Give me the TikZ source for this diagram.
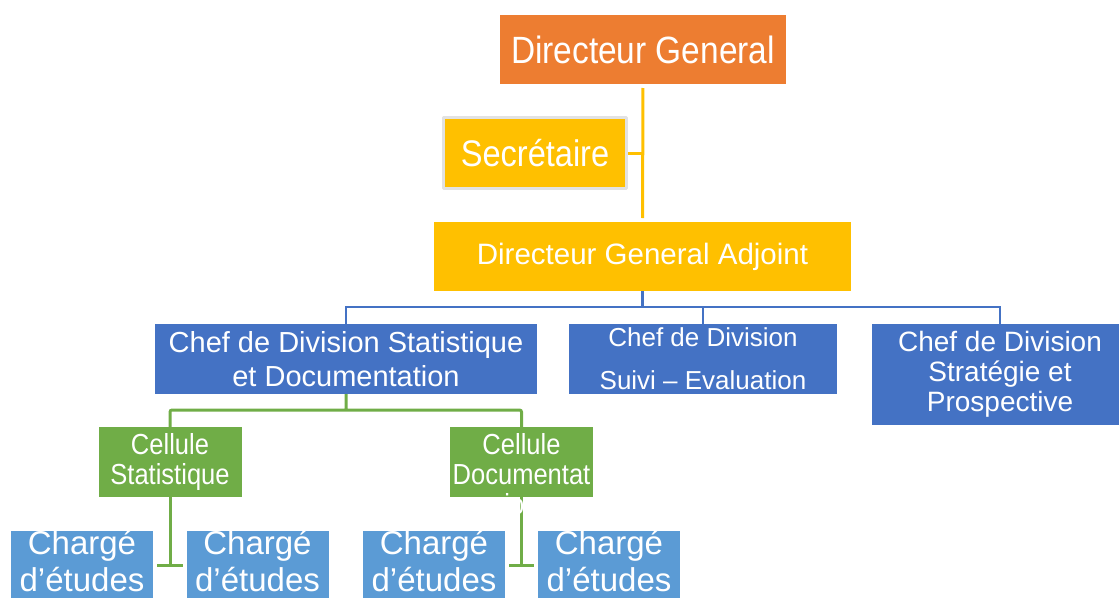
\documentclass[tikz,border=0pt]{standalone}
\usepackage{fontspec}
\setmainfont{Liberation Sans}
\newfontfamily\narrowsans[FakeStretch=0.88]{Liberation Sans}
\usetikzlibrary{backgrounds}
\definecolor{dgorange}{HTML}{ED7D31}
\definecolor{dgyellow}{HTML}{FFC000}
\definecolor{divblue}{HTML}{4472C4}
\definecolor{cellgreen}{HTML}{70AD47}
\definecolor{etblue}{HTML}{5B9BD5}
\definecolor{secgrey}{HTML}{E2E2E2}
\tikzset{
	box/.style = {inner sep = 0pt, outer sep = 0pt, text = white, align = center},
	lbl/.style = {inner sep = 0pt, outer sep = 0pt, text = white, align = center},
	etude/.style = {box, fill = etblue, minimum width = 142, minimum height = 68},
	cellbox/.style = {box, fill = cellgreen, minimum width = 143, minimum height = 70,
		font = \narrowsans\fontsize{29}{30}\selectfont},
	yline/.style = {draw = dgyellow, line width = 3pt},
	bline/.style = {draw = divblue, line width = 2.5pt},
	gline/.style = {draw = cellgreen, line width = 3pt, rounded corners = 2pt}
}
\begin{document}
\begin{tikzpicture}[x = 1pt, y = -1pt, line join = round]
	\useasboundingbox (0,0) rectangle (1119,597);
	% direction
	\node[box, fill = dgorange, minimum width = 286, minimum height = 69,
		font = \narrowsans\fontsize{38}{44}\selectfont] (dg) at (643,49.5) {Directeur General};
	\node[box, fill = dgyellow, draw = secgrey, line width = 3pt, minimum width = 183, minimum height = 71,
		font = \narrowsans\fontsize{37}{42}\selectfont] (sec) at (535,153) {Secrétaire};
	\node[box, fill = dgyellow, minimum width = 417, minimum height = 69,
		font = \fontsize{29.5}{34}\selectfont] (dga) at (642.5,256.5) {Directeur General Adjoint};
	% divisions
	\node[box, fill = divblue, minimum width = 382, minimum height = 70,
		font = \fontsize{29}{34}\selectfont] (cdsd) at (346,359)
		{Chef de Division Statistique\\et Documentation};
	\node[box, fill = divblue, minimum width = 268, minimum height = 70,
		font = \fontsize{26}{43}\selectfont] (cdse) at (703,359)
		{Chef de Division\\Suivi – Evaluation};
	\node[box, fill = divblue, minimum width = 256, minimum height = 101,
		font = \fontsize{28}{30}\selectfont] (cdsp) at (1000,374.5)
		{Chef de Division\\Stratégie et\\Prospective};
	% cellules
	\node[cellbox] (cs) at (170,462) {Cellule\\Statistique};
	\node[cellbox] (cdoc) at (521.5,462) {};
	\node[lbl, font = \narrowsans\fontsize{29}{30}\selectfont] (cdoct) at (521.5,474.5)
		{Cellule\\Documentat\\ion};
	% charges d'etudes
	\foreach \n/\x in {1/82,2/257.5,3/434,4/609}{
		\node[etude] (ce\n) at (\x,565) {};
		\node[lbl, font = \fontsize{33}{37}\selectfont] (ce\n t) at (\x,561.5)
			{Chargé\\d’études};
	}
	\begin{pgfonlayer}{background}
		\draw[yline, shorten < = 4pt, shorten > = 4pt]
		(dg.south) -- (dga.north)
		;
		\draw[yline]
		(sec.east) -- (sec.east -| dg.south)
		;
		\draw[bline]
		(dga.south) -- ++(0,16) coordinate (bus)
		(bus) -| (cdsd.north)
		(bus) -| (cdse.north)
		(bus) -| (cdsp.north)
		;
		\draw[gline]
		(cdsd.south) -- ++(0,16) coordinate (gbus)
		(gbus) -| (cs.north)
		(gbus) -| (cdoc.north)
		;
		\draw[gline]
		(cs.south) -- (cs.south |- ce1.east)
		([xshift = 4pt]ce1.east) -- ([xshift = -4pt]ce2.west)
		(cdoc.south) -- (cdoc.south |- ce3.east)
		([xshift = 4pt]ce3.east) -- ([xshift = -4pt]ce4.west)
		;
	\end{pgfonlayer}
\end{tikzpicture}
\end{document}
